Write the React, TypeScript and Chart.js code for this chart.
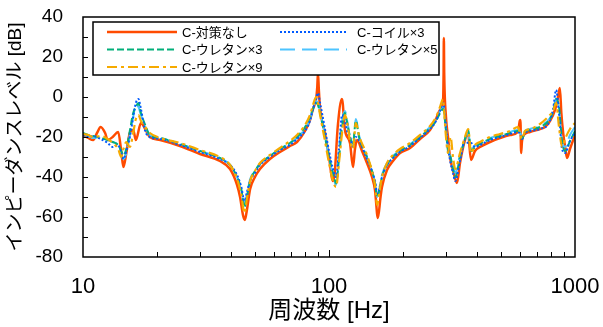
import React, { useEffect, useRef } from "react";
import { Chart, registerables } from "chart.js";

Chart.register(...registerables);

const FONT = "'Liberation Sans', Arial, 'Noto Sans CJK JP', sans-serif";

// ---- axis / labels ----
const xTickValues = [10, 100, 1000];
const yMin = -80;
const yMax = 40;
const yStep = 20;
const xTitle = "周波数 [Hz]";
const yTitle = "インピーダンスレベル [dB]";
const seriesNames = ["C-対策なし", "C-コイル×3", "C-ウレタン×3", "C-ウレタン×5", "C-ウレタン×9"];

// ---- series: C-対策なし ----
const redFreq = [
  10, 10.5, 11.0, 11.4, 11.8, 12.3, 12.6, 13.2, 13.9, 14.3,
  14.6, 15.0, 15.5, 16.0, 16.4, 17.2, 17.9, 18.7, 20.6, 24.8,
  29.9, 36, 39.6, 42.3, 43.5, 44.7, 45.5, 46.3, 47.8, 50,
  52.4, 57.5, 63.2, 69.4, 74.1, 79.9, 83.7, 86.1, 88.6, 89.6,
  90.2, 90.9, 91.9, 96.3, 100, 103.8, 105.5, 108.5, 112.9, 116.1,
  121.7, 125.2, 127.5, 130, 136.2, 142.7, 149.6, 153.8, 158, 162,
  164.2, 172.1, 182, 194.4, 213.5, 234.4, 257.4, 272.3, 282.7, 290.7,
  292.3, 293, 294, 298.9, 304.6, 310.4, 319.2, 331.4, 340.8, 357.1,
  367.3, 377.7, 392.2, 411, 451.3, 495.6, 544.2, 586.7, 596, 600,
  604, 609, 626, 656, 720.7, 755, 791, 829, 850, 868,
  880, 895, 912, 928, 954, 1000,
];
const redDb = [
  -19, -20.5, -21.5, -18, -15, -18, -21.5, -20, -17.5, -27,
  -35, -28, -18, -16.5, -21.5, -13, -16, -20, -21.5, -24.5,
  -28.5, -32, -36, -44, -50, -59, -61.5, -57, -46, -40,
  -36, -31, -27.5, -24.5, -22.5, -17, -11.5, -6, -1, 5,
  12, 4, -5, -18, -30, -42, -38, -15, -1, -16.5,
  -23, -35, -26, -21.5, -27, -33, -40, -46.5, -60.5, -50,
  -45, -36.5, -32, -28, -25.5, -21, -16.5, -11, -6.5, -2.5,
  12, 29.5, 12, -10, -20, -30, -36.5, -43, -33, -21.5,
  -18, -31.5, -27, -25, -22.5, -20.5, -19, -17.5, -12, -11.5,
  -28, -22, -18.5, -17.5, -16, -15, -12, -6.5, -1, 4.5,
  -8, -18, -25, -30.5, -26, -19,
];

// ---- shared frequency grid for the other four series ----
const freqGrid = [
  10, 10.5, 11, 11.8, 12.6, 13.2, 13.9, 14.3, 14.6, 15.0,
  15.5, 16.0, 16.4, 16.8, 17.2, 17.9, 18.7, 20.6, 24.8, 29.9,
  36, 39.6, 42.3, 44.0, 45.3, 46.5, 47.8, 50, 52.4, 57.5,
  63.2, 69.4, 74.1, 79.9, 83.7, 86.1, 88.6, 90.2, 92, 96.3,
  100, 103.8, 106.8, 110, 113, 116.1, 119, 121.7, 125.2, 128.5,
  133, 142.7, 149.6, 153.8, 157, 160, 164.2, 172.1, 182, 194.4,
  213.5, 234.4, 257.4, 272.3, 282.7, 290.7, 293, 298.9, 304.6, 312,
  319.2, 326, 340.8, 357.1, 368, 378, 392.2, 411, 451.3, 495.6,
  544.2, 586.7, 600, 609, 626, 656, 720.7, 791, 815, 838,
  861, 886, 911, 954, 1000,
];
const coilDb = [
  -19, -20, -19.5, -21, -23, -25, -24, -28, -31, -27,
  -20, -10, -3, -1, -6, -17, -20, -21, -24, -27.5,
  -31, -34, -39, -45, -52, -47, -42, -38, -34, -30,
  -26.5, -24, -21, -17, -12, -6, -1, 2, -3, -16,
  -27, -36, -40, -25, -9, -12, -18, -20, -25, -20,
  -22, -31, -37, -42, -48, -46, -40, -34, -30.5, -27.5,
  -24.5, -20.5, -16, -12, -7, -3, -4, -15, -25, -33,
  -38, -42, -32, -22, -23, -23, -25, -24, -21.5, -20,
  -18.5, -17.5, -19, -21, -18, -17, -16, -12, -6, 3.5,
  -8, -26, -28, -22, -18,
];
const ure3Db = [
  -18, -19, -19.5, -20.5, -21.5, -22.5, -24, -27, -29, -26,
  -17, -8, -5, -3, -8, -14, -19, -20.5, -23.5, -27,
  -30.5, -34, -40, -46, -55, -49, -42, -37, -33.5, -29.5,
  -26, -23, -20, -15, -10, -6, -3, -4, -8, -20,
  -30, -38, -43, -30, -15, -8, -14, -20, -23, -12,
  -21, -30, -37, -43, -50, -47, -40, -34, -30, -27,
  -24, -20, -15.5, -12, -8, -6, -7, -17, -27, -30,
  -36, -40, -30, -21, -16.5, -27, -25, -23.5, -21, -19.5,
  -18, -17, -18.5, -21, -17.5, -16.5, -15, -11, -7, -1,
  -5, -22, -27, -22, -17,
];
const ure5Db = [
  -19, -19.5, -20.5, -20, -21.5, -22.5, -24, -29, -31, -28,
  -19, -10, -4, -5, -9, -15, -19, -20.5, -23.5, -27,
  -30.5, -34, -40, -47, -53, -48, -41, -37, -33.5, -29.5,
  -26, -23, -20.5, -16, -11, -6, -2, -3, -7, -19,
  -30, -39, -44, -25, -12, -7, -13, -20, -24, -11,
  -20, -30, -37, -43, -50, -46, -39, -33, -29.5, -26.5,
  -23.5, -19.5, -15, -11, -7, -5, -6, -16, -26, -30,
  -34, -38, -29, -21, -18, -26, -24.5, -23, -20.5, -19,
  -17.5, -16.5, -18, -20, -17, -16, -14.5, -10.5, -7, -1,
  -6, -23, -25, -19, -15,
];
const ure9Db = [
  -18.5, -19, -20, -19.5, -21, -23, -26, -30, -26, -22.5,
  -25, -18, -11, -9, -12, -15, -18, -20.5, -23, -26.5,
  -30, -34, -41, -49, -58, -50, -42, -37, -33, -29,
  -25.5, -22, -19, -14, -9, -4, 0, -3, -9, -22,
  -33, -42, -45, -32, -18, -9, -14, -22, -26, -13,
  -20, -29, -37, -44, -54, -48, -40, -33, -29, -26,
  -23, -19, -14.5, -10, -5, -1, -5, -20, -28, -20,
  -30, -36, -28, -20, -16, -28, -24, -22.5, -20, -18.5,
  -17, -15, -19, -21, -17, -16, -13.5, -9, -7, -3,
  -15, -25, -21, -16, -13,
];

const colors = ["#FF4B00", "#005AFF", "#03AF7A", "#4DC4FF", "#F6AA00"];
const dashes: number[][] = [[], [2, 2], [7, 3], [15, 7], [10, 4, 3, 4]];
const widths = [2.5, 2, 2, 2, 2.2];

function pts(f: number[], v: number[]) {
  return f.map((x, i) => ({ x, y: v[i] }));
}

const framePlugin = {
  id: "frame",
  afterDatasetsDraw(chart: any) {
    const { ctx, chartArea: a, scales } = chart;
    const xs = scales.x;
    const ys = scales.y;
    ctx.save();
    ctx.strokeStyle = "#000";
    ctx.lineWidth = 1.5;
    ctx.strokeRect(a.left, a.top, a.right - a.left, a.bottom - a.top);
    ctx.lineWidth = 1;
    ctx.beginPath();
    for (let d = 10; d < 1000; d *= 10) {
      for (let m = 1; m <= 9; m++) {
        const v = d * m;
        if (v <= 10) continue;
        const px = Math.round(xs.getPixelForValue(v)) + 0.5;
        const len = m === 1 ? 7 : 5;
        ctx.moveTo(px, a.bottom);
        ctx.lineTo(px, a.bottom - len);
      }
    }
    for (let v = yMin + 10; v < yMax; v += 10) {
      const py = Math.round(ys.getPixelForValue(v)) + 0.5;
      ctx.moveTo(a.left, py);
      ctx.lineTo(a.left + 5, py);
    }
    ctx.stroke();

    // legend
    const lx = a.left + 10;
    const ly = a.top + 5;
    const lw = 346;
    const lh = 53;
    ctx.fillStyle = "#fff";
    ctx.fillRect(lx, ly, lw, lh);
    ctx.lineWidth = 1.5;
    ctx.strokeRect(lx, ly, lw, lh);
    const slots = [
      { c: 0, r: 0 },
      { c: 1, r: 0 },
      { c: 0, r: 1 },
      { c: 1, r: 1 },
      { c: 0, r: 2 },
    ];
    const colX = [
      { x1: lx + 14, x2: lx + 84, tx: lx + 89 },
      { x1: lx + 187, x2: lx + 254, tx: lx + 264 },
    ];
    const rowY = [ly + 10, ly + 27.5, ly + 45];
    ctx.font = `13px ${FONT}`;
    ctx.textBaseline = "middle";
    ctx.textAlign = "left";
    chart.data.datasets.forEach((ds: any, i: number) => {
      const s = slots[i];
      const cx = colX[s.c];
      const y = rowY[s.r];
      ctx.save();
      ctx.strokeStyle = ds.borderColor;
      ctx.lineWidth = ds.borderWidth;
      ctx.setLineDash(ds.borderDash || []);
      ctx.beginPath();
      ctx.moveTo(cx.x1, y);
      ctx.lineTo(cx.x2, y);
      ctx.stroke();
      ctx.restore();
      ctx.fillStyle = "#000";
      ctx.fillText(ds.label, cx.tx, y + 1);
    });
    ctx.restore();
  },
};

function zeroPad(scale: any) {
  scale.paddingTop = 0;
  scale.paddingBottom = 0;
  scale.paddingLeft = 0;
  scale.paddingRight = 0;
}

export default function App() {
  const ref = useRef<HTMLCanvasElement | null>(null);
  useEffect(() => {
    if (!ref.current) return;
    const series = [
      pts(redFreq, redDb),
      pts(freqGrid, coilDb),
      pts(freqGrid, ure3Db),
      pts(freqGrid, ure5Db),
      pts(freqGrid, ure9Db),
    ];
    const orders = [10, 1, 2, 3, 0];
    const chart = new Chart(ref.current, {
      type: "line",
      data: {
        datasets: series.map((d, i) => ({
          label: seriesNames[i],
          data: d,
          borderColor: colors[i],
          backgroundColor: colors[i],
          borderWidth: widths[i],
          borderDash: dashes[i],
          pointRadius: 0,
          fill: false,
          cubicInterpolationMode: "monotone" as const,
          order: orders[i],
        })),
      },
      options: {
        animation: false,
        responsive: false,
        devicePixelRatio: 1,
        layout: { padding: { top: 17, right: 28, left: 0, bottom: 0 } },
        plugins: { legend: { display: false }, tooltip: { enabled: false } },
        scales: {
          x: {
            type: "logarithmic",
            position: "bottom",
            min: 10,
            max: 1000,
            afterBuildTicks: (scale: any) => {
              scale.ticks = xTickValues.map((v) => ({ value: v, major: true }));
            },
            afterFit: (scale: any) => {
              scale.height = 70;
              zeroPad(scale);
            },
            grid: { display: false, drawTicks: false },
            border: { display: false },
            ticks: {
              padding: 17,
              color: "#000",
              font: { family: FONT, size: 22 },
              maxRotation: 0,
              autoSkip: false,
              callback: (v: any) => String(v),
            },
            title: {
              display: true,
              text: xTitle,
              color: "#000",
              font: { family: FONT, size: 24 },
              padding: { top: 0, bottom: 1 },
            },
          },
          y: {
            type: "linear",
            min: yMin,
            max: yMax,
            afterFit: (scale: any) => {
              scale.width = 83;
              zeroPad(scale);
            },
            grid: { display: false, drawTicks: false },
            border: { display: false },
            ticks: {
              stepSize: yStep,
              padding: 20,
              color: "#000",
              font: { family: FONT, size: 19 },
              callback: (v: any) => String(v),
            },
            title: {
              display: true,
              text: yTitle,
              color: "#000",
              font: { family: FONT, size: 19 },
              padding: { top: 4, bottom: 0 },
            },
          },
        },
      },
      plugins: [framePlugin],
    });
    return () => chart.destroy();
  }, []);
  return (
    <div style={{ position: "fixed", left: 0, top: 0, width: 603, height: 327, background: "#fff" }}>
      <canvas ref={ref} width={603} height={327} style={{ display: "block", width: 603, height: 327 }} />
    </div>
  );
}
